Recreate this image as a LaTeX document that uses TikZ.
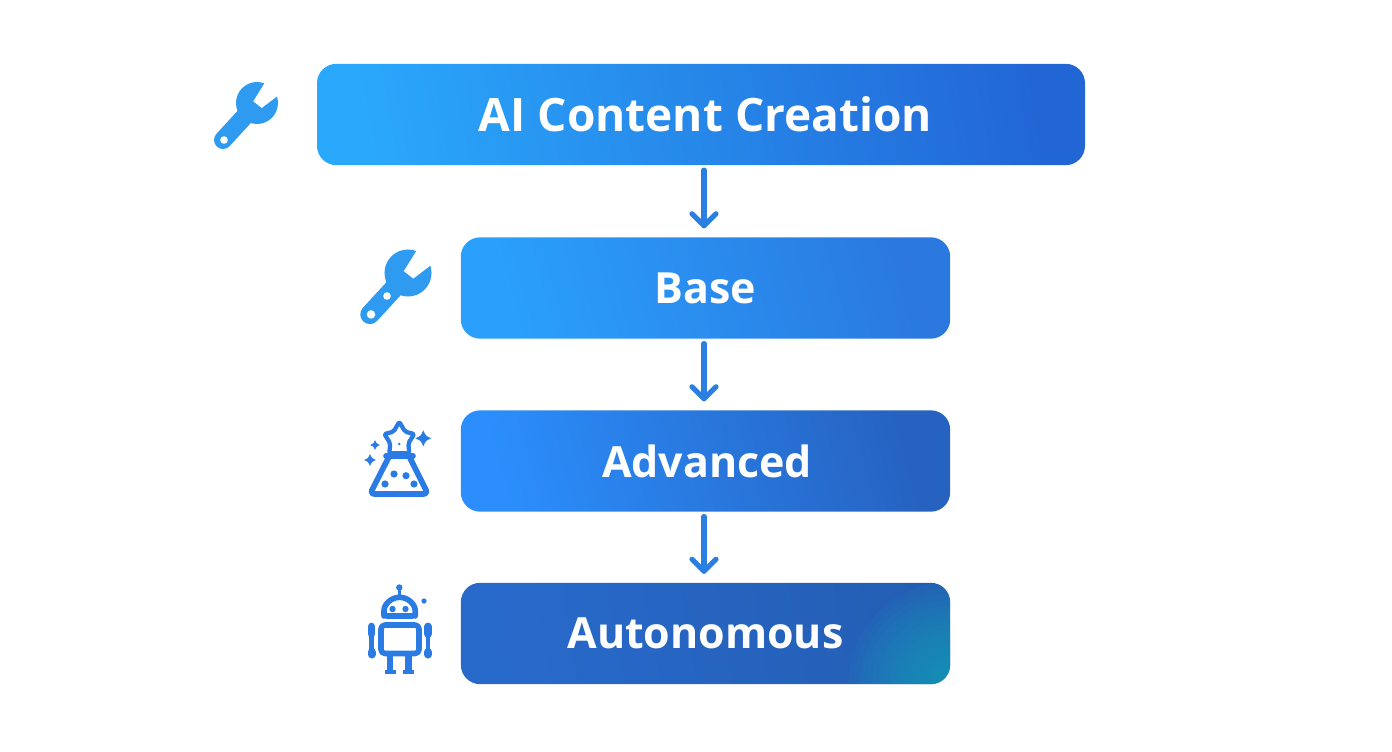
\documentclass[tikz,border=0pt]{standalone}
\usepackage{fontspec}
\setmainfont{Open Sans}
\usetikzlibrary{arrows.meta}

\definecolor{wrenchblue}{HTML}{2E9BF0}
\definecolor{iconblue}{HTML}{2B7BE4}
\definecolor{arrowblue}{HTML}{2A7FE0}
\definecolor{glowteal}{HTML}{14A8C0}

\tikzset{
    levelbox/.style={rounded corners=14.5pt, minimum height=76pt, text=white,
        font=\bfseries\fontsize{32.2}{40}\selectfont, inner sep=0pt},
    flowarrow/.style={arrowblue, line width=3.9pt, line cap=round, shorten <=3.5pt, shorten >=6.5pt,
        -{Straight Barb[round, length=9pt, width=18pt, line width=3.9pt]}},
    iconline/.style={iconblue, line width=4.2pt, line join=round, line cap=round},
    wrenchicon/.pic={
        \fill[wrenchblue] (0,0) circle (21);
        \draw[wrenchblue, line width=#1, line cap=round] (0,0) -- (-34,37);
        % jaw and hole
        \fill[white] (-3.7,-1.7) -- (12,-27) -- (27,-12) -- (4.7,5) -- cycle;
        \fill[white] (-33,37) circle (3.8);
    }
}

\begin{document}
\begin{tikzpicture}[x=0.75pt, y=-0.75pt]
    % Page
    \useasboundingbox (0,0) rectangle (1392,752);

    % Levels
    \node[levelbox, minimum width=576pt,
          left color={rgb,255:red,42;green,168;blue,252}, middle color={rgb,255:red,42;green,142;blue,240},
          right color={rgb,255:red,34;green,102;blue,214}, shading angle=100]
        (title) at (701,114.5) {\hspace*{6.7pt}\fontsize{34.5}{42}\selectfont AI Content Creation};
    \node[levelbox, minimum width=367pt,
          left color={rgb,255:red,42;green,160;blue,252}, right color={rgb,255:red,42;green,120;blue,224}, shading angle=105]
        (base) at (705.5,288) {Base};
    \node[levelbox, minimum width=367pt,
          left color={rgb,255:red,43;green,142;blue,252}, right color={rgb,255:red,38;green,98;blue,192}, shading angle=105]
        (advanced) at (705.5,461) {\hspace*{2.5pt}Advanced};
    \node[levelbox, minimum width=367pt,
          left color={rgb,255:red,40;green,106;blue,204}, right color={rgb,255:red,36;green,94;blue,180}, shading angle=100,
          path picture={\foreach \r in {6,12,...,102}{
              \fill[glowteal, opacity=0.07] (path picture bounding box.south east) circle (\r);}}]
        (autonomous) at (705.5,633.5) {Autonomous};

    % Arrows between levels
    \foreach \a/\b in {title/base, base/advanced, advanced/autonomous}{
        \draw[flowarrow] (\a.south -| 704,0) -- (\b.north -| 704,0);
    }

    % Wrenches
    \pic at (257,103) {wrenchicon=13.5pt};
    \pic[scale=1.12] at (408,273) {wrenchicon=14.5pt};
    \fill[white] (387,296) circle (3.8);

    % Flask
    \draw[iconline, line width=3.2pt, rounded corners=1.5pt]
        (399.3,421.7) -- (405,431.7) -- (414.3,434) -- (408.3,443.3) -- (409.3,453.3)
        -- (389.3,453.3) -- (390.3,443.3) -- (384.3,434) -- (393.6,431.7) -- cycle;
    \draw[iconline] (386,456) -- (413,456);
    \draw[iconline, rounded corners=3pt] (388.3,458) -- (370,494) -- (428,494) -- (410,458);
    \foreach \x/\y in {394/474, 406/475.7, 385/484, 414/484}{
        \fill[iconblue] (\x,\y) circle (3.6);
    }
    \fill[iconblue] (399.3,444) circle (1.4);
    \foreach \x/\y/\r in {423.3/438.3/8, 375/445/5, 370/460/6}{
        \fill[iconblue] ({\x},{\y-\r}) .. controls ({\x+0.3*\r},{\y-0.3*\r}) .. ({\x+\r},{\y})
            .. controls ({\x+0.3*\r},{\y+0.3*\r}) .. ({\x},{\y+\r})
            .. controls ({\x-0.3*\r},{\y+0.3*\r}) .. ({\x-\r},{\y})
            .. controls ({\x-0.3*\r},{\y-0.3*\r}) .. cycle;
    }

    % Robot
    \fill[iconblue] (399.3,587.5) circle (3.2);
    \draw[iconline, line width=2.2pt] (399.3,588) -- (399.3,596);
    \draw[iconline, rounded corners=2pt] (384,616) -- (384,613.3) arc (180:360:15.6 and 16) -- (415.2,616) -- cycle;
    \foreach \x in {392.5, 405.5}{
        \fill[iconblue] (\x,609) circle (3.2);
    }
    \fill[iconblue] (424,601) circle (2.6);
    \draw[iconline, rounded corners=3pt] (381,625) rectangle (419,653.5);
    \foreach \x in {371.5, 428}{
        \draw[iconblue, line width=5.8pt, line cap=round] (\x,626.5) -- (\x,634);
        \draw[iconblue, line width=3.2pt] (\x,634) -- (\x,652);
        \draw[iconblue, line width=6pt, line cap=round] (\x,652) -- (\x,654.5);
    }
    \foreach \x in {390, 408.5}{
        \draw[iconblue, line width=5pt] (\x,655) -- (\x,671);
        \draw[iconblue, line width=3pt] (\x-5.5,671.5) -- (\x+5.5,671.5);
    }
\end{tikzpicture}
\end{document}
